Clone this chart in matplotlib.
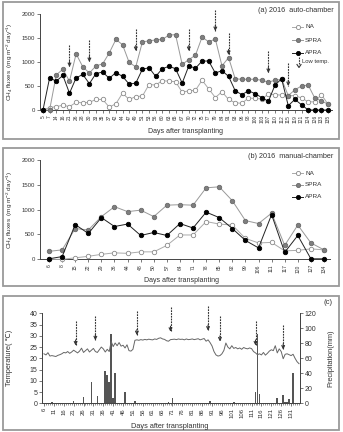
import matplotlib
matplotlib.use('Agg')
import matplotlib.pyplot as plt
from matplotlib.lines import Line2D
from matplotlib.patches import Rectangle

plt.rcParams['font.family'] = ['Liberation Sans', 'DejaVu Sans']
plt.rcParams['mathtext.default'] = 'regular'

# ---------------- data: panel (a) auto-chamber ----------------
days_a = [5, 7, 14, 16, 21, 26, 28, 30, 33, 35, 37, 42, 44, 47, 49, 51, 53, 56, 60, 63,
          65, 67, 70, 72, 75, 77, 79, 84, 91, 93, 96, 98, 100, 103, 107, 110, 112, 115,
          119, 121, 124, 126, 133, 135]
na_a = [0, 50, 70, 100, 70, 160, 150, 160, 220, 220, 60, 130, 350, 220, 280, 290, 530, 520,
        610, 600, 590, 370, 400, 410, 620, 440, 260, 380, 220, 150, 140, 250, 240, 230, 330,
        320, 310, 300, 300, 250, 170, 170, 320, 120]
spra_a = [0, 0, 730, 850, 600, 1170, 900, 770, 920, 960, 1190, 1470, 1360, 990, 900, 1420,
          1440, 1460, 1470, 1560, 1570, 950, 1050, 1140, 1520, 1420, 1480, 920, 1090, 650,
          640, 640, 640, 620, 580, 620, 640, 300, 420, 500, 520, 250, 190, 120]
apra_a = [0, 670, 600, 720, 350, 670, 740, 550, 760, 790, 660, 780, 700, 540, 560, 850, 880,
          700, 860, 910, 860, 560, 920, 870, 1020, 1020, 770, 820, 700, 400, 320, 400, 340,
          260, 180, 520, 650, 90, 220, 110, 0, 0, 0, 0]
lowtemp_a_idx = [4, 7, 14, 22, 26, 28, 34, 37]
lowtemp_a_top = [1354, 1458, 1688, 1688, 2083, 1604, 1229, 979]
lowtemp_a_bot = [896, 1000, 1229, 1229, 1646, 1146, 771, 500]

# ---------------- data: panel (b) manual-chamber ----------------
days_b = [6, 8, 15, 22, 29, 36, 44, 48, 50, 57, 64, 71, 78, 85, 92, 99, 106, 111, 117, 120, 127, 134]
na_b = [0, 0, 30, 60, 100, 130, 120, 150, 150, 280, 490, 490, 760, 710, 690, 420, 330, 340,
        170, 180, 210, 190]
spra_b = [160, 190, 620, 590, 860, 1060, 960, 990, 860, 1090, 1100, 1090, 1440, 1460, 1180,
          780, 720, 930, 280, 690, 330, 190]
apra_b = [10, 55, 700, 520, 840, 660, 710, 480, 540, 480, 720, 630, 950, 840, 620, 380, 230,
          900, 140, 480, 10, 10]

# ---------------- data: panel (c) weather ----------------
temp_days = list(range(6, 136))
temp_c = [22.0, 21.5, 22.5, 21.0, 21.2,
          21.0, 20.8, 21.3, 21.6, 22.0,
          22.6, 22.4, 23.0, 22.2, 22.8,
          23.6, 23.0, 22.4, 23.2, 24.5,
          22.6, 23.4, 24.2, 22.8, 23.6,
          24.4, 23.0, 22.6, 23.8, 25.0,
          24.2, 22.8, 24.0, 23.0, 27.5,
          25.2, 26.8, 25.6, 27.0, 25.4,
          25.8, 24.6, 26.0, 23.4, 23.2,
          24.0, 28.0, 28.2, 28.0, 28.3,
          28.1, 28.4, 28.2, 28.5, 28.3,
          28.2, 28.6, 28.4, 28.9, 29.1,
          28.6, 28.4, 27.8, 27.6, 28.3,
          28.4, 28.5, 28.3, 28.6, 28.4,
          28.5, 28.2, 28.6, 28.3, 28.4,
          28.6, 28.3, 28.5, 28.7, 28.2,
          28.5, 28.8, 27.6, 28.2, 27.0,
          25.5, 23.0, 21.5, 21.0, 21.2,
          22.0, 23.5, 26.8, 25.0, 24.2,
          25.6, 24.4, 24.8, 24.2, 24.6,
          24.0, 24.8, 24.4, 24.2, 24.6,
          24.3, 23.0, 22.4, 21.6, 22.0,
          21.5, 22.6, 21.4, 22.2, 23.2,
          23.8, 23.4, 25.6, 22.4, 24.2,
          23.0, 19.8, 21.8, 22.0, 21.6,
          21.2, 21.8, 20.0, 18.5, 17.6]
precip_days = [10, 13, 21, 26, 30, 33, 37, 38, 39, 40, 41, 42, 47, 52, 62, 69, 71, 90, 95,
               102, 109, 113, 114, 115, 124, 127, 128, 129, 130, 132]
precip_mm = [2, 1, 3, 8, 28, 10, 43, 38, 28, 92, 7, 41, 15, 3, 1, 2, 7, 3, 1,
             2, 1, 15, 92, 12, 7, 11, 2, 2, 6, 41]
lowtemp_c_day = [22, 32, 53, 70, 89, 95, 113, 127]
lowtemp_c_top = [36.6, 38.9, 41.2, 42.7, 43.2, 38.6, 36.6, 34.8]
lowtemp_c_bot = [25.7, 28.0, 30.3, 31.8, 32.3, 27.5, 25.7, 23.9]

# ---------------- figure ----------------
W, H = 343, 432
fig = plt.figure(figsize=(W / 100, H / 100), dpi=100)


def fx(x):
    return x / W


def fy(y):
    return 1 - y / H


def axes_px(l, t, r, b):
    return fig.add_axes([fx(l), fy(b), (r - l) / W, (b - t) / H])


for (t, b) in [(2, 139), (148, 286), (296, 430)]:
    fig.add_artist(Rectangle((fx(3), fy(b)), (339 - 3) / W, (b - t) / H, fill=False,
                             ec='#9a9a9a', lw=1.3, transform=fig.transFigure))

AX_COL = '#444444'
styles = {
    'NA': dict(color='#aaaaaa', marker='o', mfc='white', mec='#8a8a8a'),
    'SPRA': dict(color='#999999', marker='o', mfc='#7f7f7f', mec='#6a6a6a'),
    'APRA': dict(color='#222222', marker='o', mfc='black', mec='black'),
}


def style_axis(ax):
    for s in ['top', 'right']:
        ax.spines[s].set_visible(False)
    for s in ['left', 'bottom']:
        ax.spines[s].set_linewidth(0.7)
        ax.spines[s].set_color(AX_COL)
    ax.tick_params(axis='both', length=2, width=0.5, color=AX_COL, labelsize=4.3, pad=1.5,
                   labelcolor='#333333')


def low_arrow(ax, x, ytop, ybot):
    ax.plot([x, x], [ytop, ybot], ls=(0, (1.6, 0.9)), lw=0.8, color='#333333', clip_on=False,
            zorder=5)
    ax.annotate('', xy=(x, ybot), xytext=(0, 4), textcoords='offset points',
                arrowprops=dict(arrowstyle='->', lw=0.8, color='#333333', shrinkA=0, shrinkB=0,
                                mutation_scale=5), annotation_clip=False, zorder=5)


def legend_px(y_list, names):
    for y, n in zip(y_list, names):
        st = styles[n]
        fig.add_artist(Line2D([fx(292), fx(303)], [fy(y), fy(y)], color=st['color'], lw=0.7,
                              transform=fig.transFigure))
        fig.add_artist(Line2D([fx(297.5)], [fy(y)], marker='o', ms=3, mfc=st['mfc'],
                              mec=st['mec'], mew=0.6, lw=0, transform=fig.transFigure))
        fig.text(fx(305), fy(y), n, fontsize=4.6, va='center', ha='left', color='#333333')


def plot_series(ax, xs, series):
    for n, vals in series:
        st = styles[n]
        ax.plot(xs, vals, color=st['color'], lw=0.7, marker='o', ms=3.2, mfc=st['mfc'],
                mec=st['mec'], mew=0.6, zorder=3, clip_on=False)


ylab = r'CH$_4$ fluxes  (mg m$^{-2}$ day$^{-1}$)'

# ---- panel (a)
ax1 = axes_px(40, 14, 332, 110)
xa = list(range(len(days_a)))
plot_series(ax1, xa, [('NA', na_a), ('SPRA', spra_a), ('APRA', apra_a)])
ax1.set_xlim(-0.45, len(days_a) - 0.4)
ax1.set_ylim(0, 2000)
ax1.set_yticks([0, 500, 1000, 1500, 2000])
ax1.set_xticks(xa)
ax1.set_xticklabels([str(d) for d in days_a], rotation=90, fontsize=3.5)
style_axis(ax1)
ax1.tick_params(axis='x', labelsize=3.5)
for x, t, b in zip(lowtemp_a_idx, lowtemp_a_top, lowtemp_a_bot):
    low_arrow(ax1, x, t, b)
fig.text(fx(334), fy(10.5), '(a) 2016  auto-chamber', fontsize=5.2, ha='right', va='center',
         color='#333333')
legend_px([26.7, 40, 52.7], ['NA', 'SPRA', 'APRA'])
fig.add_artist(Line2D([fx(299), fx(299)], [fy(57), fy(64)], ls=(0, (1.5, 0.9)), lw=0.8,
                      color='#333333', transform=fig.transFigure))
fig.add_artist(Line2D([fx(297), fx(299), fx(301)], [fy(64.5), fy(67.5), fy(64.5)], lw=0.8,
                      color='#333333', transform=fig.transFigure))
fig.text(fx(302), fy(62), 'Low temp.', fontsize=4.2, ha='left', va='center', color='#333333')
fig.text(fx(10), fy(62), ylab, rotation=90, fontsize=4.6, ha='center', va='center',
         color='#333333')
fig.text(fx(186), fy(131.5), 'Days after transplanting', fontsize=5, ha='center', va='center',
         color='#333333')

# ---- panel (b)
ax2 = axes_px(40, 160, 330, 259.3)
xb = list(range(len(days_b)))
plot_series(ax2, xb, [('NA', na_b), ('SPRA', spra_b), ('APRA', apra_b)])
ax2.set_xlim(-0.69, len(days_b) - 0.54)
ax2.set_ylim(0, 2000)
ax2.set_yticks([0, 500, 1000, 1500, 2000])
ax2.set_xticks(xb)
ax2.set_xticklabels([str(d) for d in days_b], rotation=90, fontsize=3.6)
style_axis(ax2)
ax2.tick_params(axis='x', labelsize=3.6)
fig.text(fx(333), fy(156), '(b) 2016  manual-chamber', fontsize=5.2, ha='right', va='center',
         color='#333333')
legend_px([173.3, 185, 196.7], ['NA', 'SPRA', 'APRA'])
fig.text(fx(10), fy(210), ylab, rotation=90, fontsize=4.6, ha='center', va='center',
         color='#333333')
fig.text(fx(182), fy(280), 'Days after transplanting', fontsize=5, ha='center', va='center',
         color='#333333')

# ---- panel (c)
ax3 = axes_px(42, 313.3, 300, 403.3)
ax3b = ax3.twinx()
ax3b.bar(precip_days, precip_mm, width=0.8, color='#555555', zorder=2)
ax3b.set_ylim(0, 120)
ax3b.set_yticks(range(0, 121, 20))
ax3.set_zorder(ax3b.get_zorder() + 1)
ax3.patch.set_visible(False)
ax3.plot(temp_days, temp_c, color='#666666', lw=0.7, zorder=3)
ax3.set_ylim(0, 40)
ax3.set_yticks(range(0, 41, 5))
ax3.set_xlim(5, 135.5)
ax3.set_xticks(range(6, 132, 5))
ax3.set_xticks(range(6, 136), minor=True)
ax3.set_xticklabels([str(d) for d in range(6, 132, 5)], rotation=90)
for a in (ax3, ax3b):
    a.spines['top'].set_visible(False)
    for s in ['left', 'bottom', 'right']:
        a.spines[s].set_linewidth(0.7)
        a.spines[s].set_color(AX_COL)
    a.tick_params(axis='both', length=2, width=0.5, color=AX_COL, labelsize=5, pad=1.5,
                  labelcolor='#333333')
ax3.tick_params(axis='x', which='minor', length=1.2, width=0.4, color=AX_COL)
ax3.tick_params(axis='x', labelsize=4.3)
for d, t, b in zip(lowtemp_c_day, lowtemp_c_top, lowtemp_c_bot):
    low_arrow(ax3, d, t, b)
fig.text(fx(333), fy(303), '(c)', fontsize=5.5, ha='right', va='center', color='#333333')
fig.text(fx(10), fy(358), 'Temperature( \u2103)', rotation=90, fontsize=5.3, ha='center',
         va='center', color='#333333')
fig.text(fx(331), fy(358), 'Precipitation(mm)', rotation=90, fontsize=5.3, ha='center',
         va='center', color='#333333')
fig.text(fx(170), fy(426), 'Days after transplanting', fontsize=5.3, ha='center', va='center',
         color='#333333')

fig.savefig('out.png', dpi=100)
